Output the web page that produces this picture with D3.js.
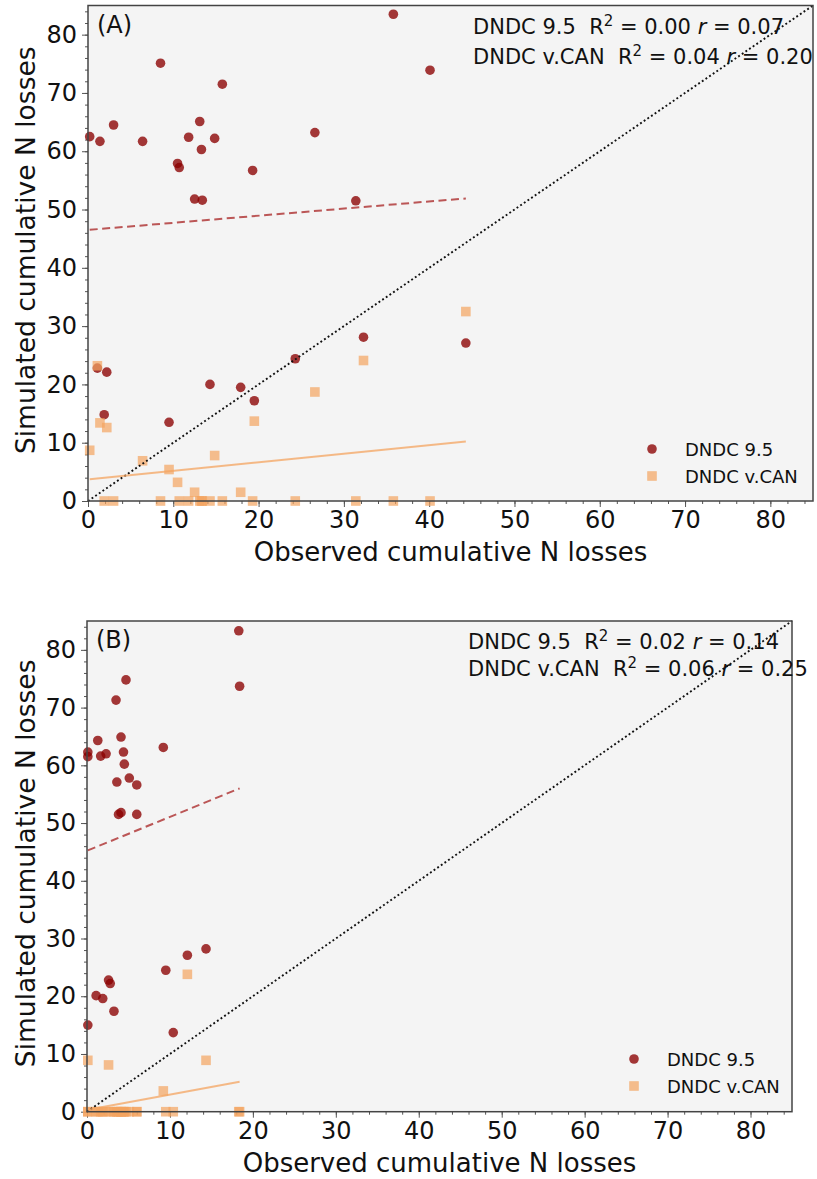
<!DOCTYPE html>
<html>
<head>
<meta charset="utf-8">
<script src="https://cdn.jsdelivr.net/npm/d3@7"></script>
<style>
  body { margin: 0; background: #fff; }
  text { font-family: "DejaVu Sans", sans-serif; white-space: pre; }
</style>
</head>
<body>
<svg id="chart" width="817" height="1179"></svg>
<script>
// Panel A: observed vs simulated cumulative N losses
var obsA = [0.2, 1.4, 3.0, 6.4, 8.5, 10.5, 10.7, 11.8, 12.5, 13.1, 13.3, 13.4, 14.85, 15.75, 19.3,
  35.8, 40.1, 26.6, 31.4, 1.1, 2.2, 1.9, 9.5, 14.3, 17.9, 19.5, 24.3, 32.3, 44.3];
var simA95 = [62.5, 61.7, 64.5, 61.7, 75.1, 57.9, 57.2, 62.4, 51.8, 65.1, 60.3, 51.6, 62.2, 71.5, 56.7,
  83.5, 73.9, 63.2, 51.5, 22.8, 22.1, 14.8, 13.5, 20.0, 19.5, 17.2, 24.4, 28.1, 27.1];
var simACAN = [8.7, 13.4, 0, 6.9, 0, 3.2, 0, 0, 1.5, 0, 0, 0, 7.8, 0, 0,
  0, 0, 18.7, 0, 23.2, 12.6, 0, 5.4, 0, 1.5, 13.7, 0, 24.1, 32.5];

// Panel B
var obsB = [0.1, 0.1, 1.3, 1.65, 2.3, 3.5, 4.7, 4.1, 4.4, 4.5, 5.1, 3.6, 6.0, 3.8, 4.1, 6.0, 9.2,
  18.3, 18.4, 0.1, 1.1, 1.9, 2.6, 2.8, 3.25, 9.5, 10.4, 12.1, 14.35];
var simB95 = [62.3, 61.5, 64.3, 61.6, 62.0, 71.3, 74.8, 64.9, 62.3, 60.2, 57.8, 57.1, 56.6, 51.5, 51.8, 51.5, 63.1,
  83.3, 73.7, 15.0, 20.1, 19.6, 22.8, 22.2, 17.4, 24.5, 13.7, 27.1, 28.2];
var simBCAN = [0, 0, 0, 0, 0, 0, 0, 0, 0, 0, 0, 0, 0, 0, 0, 0, 3.6,
  0, 0, 8.9, 0, 0, 8.1, 0, 0, 0, 0, 23.8, 8.9];

// fitted lines [intercept, slope]
var fitA95 = [46.5, 0.122], fitACAN = [3.7, 0.147];
var fitB95 = [45.2, 0.587], fitBCAN = [0.3, 0.266];

var seriesNames = ["DNDC 9.5", "DNDC v.CAN"];
var r2A = ["0.00", "0.04"], rA = ["0.07", "0.20"];
var r2B = ["0.02", "0.06"], rB = ["0.14", "0.25"];
var majorTicks = d3.range(0, 81, 10);
var minorTicks = d3.range(0, 86, 2);

var col95 = "darkred", colCAN = "sandybrown";
var svg = d3.select("#chart");

function drawPanel(p) {
  var g = svg.append("g");
  var x = d3.scaleLinear().domain([0, 85]).range([p.left, p.right]);
  var y = d3.scaleLinear().domain([0, 85]).range([p.bottom, p.top]);

  g.append("rect")
    .attr("x", p.left).attr("y", p.top)
    .attr("width", p.right - p.left).attr("height", p.bottom - p.top)
    .attr("fill", "#f4f4f4");

  // axes
  var xMinor = g.append("g").attr("transform", "translate(0," + p.bottom + ")")
    .call(d3.axisBottom(x).tickValues(minorTicks).tickSize(3).tickFormat(""));
  var xMajor = g.append("g").attr("transform", "translate(0," + p.bottom + ")")
    .call(d3.axisBottom(x).tickValues(majorTicks).tickSize(6).tickPadding(4));
  var yMinor = g.append("g").attr("transform", "translate(" + p.left + ",0)")
    .call(d3.axisLeft(y).tickValues(minorTicks).tickSize(3).tickFormat(""));
  var yMajor = g.append("g").attr("transform", "translate(" + p.left + ",0)")
    .call(d3.axisLeft(y).tickValues(majorTicks).tickSize(6).tickPadding(5));
  [xMinor, xMajor, yMinor, yMajor].forEach(function (a) {
    a.select(".domain").remove();
    a.selectAll("line").attr("stroke", "#555").attr("stroke-width", 1);
    a.selectAll("text").attr("font-size", 24).attr("fill", "#111")
      .attr("font-family", "DejaVu Sans");
  });

  // scatter
  var pts95 = p.obs.map(function (d, i) { return [d, p.sim95[i]]; });
  var ptsCAN = p.obs.map(function (d, i) { return [d, p.simCAN[i]]; });
  g.selectAll("circle.p95").data(pts95).enter().append("circle")
    .attr("class", "p95")
    .attr("cx", function (d) { return x(d[0]); })
    .attr("cy", function (d) { return y(d[1]); })
    .attr("r", 4.8)
    .attr("fill", col95).attr("fill-opacity", 0.78);
  g.selectAll("rect.pcan").data(ptsCAN).enter().append("rect")
    .attr("class", "pcan")
    .attr("x", function (d) { return x(d[0]) - 4.8; })
    .attr("y", function (d) { return y(d[1]) - 4.8; })
    .attr("width", 9.6).attr("height", 9.6)
    .attr("fill", colCAN).attr("fill-opacity", 0.7);

  // 1:1 line
  g.append("line")
    .attr("x1", x(0)).attr("y1", y(0)).attr("x2", x(85)).attr("y2", y(85))
    .attr("stroke", "#111").attr("stroke-width", 1.9)
    .attr("stroke-dasharray", "1.9,2.5");

  // regression lines
  var xr = d3.extent(p.obs);
  var line = d3.line().x(function (d) { return x(d[0]); }).y(function (d) { return y(d[1]); });
  g.append("path")
    .datum(xr.map(function (v) { return [v, p.fit95[0] + p.fit95[1] * v]; }))
    .attr("d", line).attr("fill", "none")
    .attr("stroke", "#b03a3a").attr("stroke-opacity", 0.85).attr("stroke-width", 2)
    .attr("stroke-dasharray", "8,4.5");
  g.append("path")
    .datum(xr.map(function (v) { return [v, p.fitCAN[0] + p.fitCAN[1] * v]; }))
    .attr("d", line).attr("fill", "none")
    .attr("stroke", colCAN).attr("stroke-opacity", 0.75).attr("stroke-width", 2);

  // frame
  g.append("rect")
    .attr("x", p.left).attr("y", p.top)
    .attr("width", p.right - p.left).attr("height", p.bottom - p.top)
    .attr("fill", "none").attr("stroke", "#444").attr("stroke-width", 1.5);

  // panel tag
  g.append("text").attr("x", p.left + 9).attr("y", p.top + 27)
    .attr("font-size", 24).attr("fill", "#111").text(p.tag);

  // stats text
  seriesNames.forEach(function (name, i) {
    var t = g.append("text")
      .attr("x", p.statX).attr("y", p.statY + i * p.statDy)
      .attr("font-size", 21).attr("fill", "#111");
    t.append("tspan").text(name + "  R");
    t.append("tspan").attr("dy", -8).attr("font-size", 15).text("2");
    t.append("tspan").attr("dy", 8).text(" = " + p.r2[i] + " ");
    t.append("tspan").attr("font-style", "italic").text("r");
    t.append("tspan").text(" = " + p.r[i]);
  });

  // legend
  var lg = g.append("g").attr("transform", "translate(" + p.legX + "," + p.legY + ")");
  lg.append("circle").attr("cx", 0).attr("cy", 0).attr("r", 4.8)
    .attr("fill", col95).attr("fill-opacity", 0.78);
  lg.append("rect").attr("x", -4.8).attr("y", 27 - 4.8).attr("width", 9.6).attr("height", 9.6)
    .attr("fill", colCAN).attr("fill-opacity", 0.7);
  seriesNames.forEach(function (name, i) {
    lg.append("text").attr("x", 33).attr("y", i * 27 + 6.5)
      .attr("font-size", 18).attr("fill", "#111").text(name);
  });

  // axis titles
  g.append("text")
    .attr("x", (p.left + p.right) / 2).attr("y", p.bottom + 60)
    .attr("text-anchor", "middle").attr("font-size", 26).attr("fill", "#111")
    .text("Observed cumulative N losses");
  g.append("text")
    .attr("transform", "translate(35," + ((p.top + p.bottom) / 2 - 3) + ") rotate(-90)")
    .attr("text-anchor", "middle").attr("font-size", 26.5).attr("fill", "#111")
    .text("Simulated cumulative N losses");
}

drawPanel({
  tag: "(A)", left: 88, right: 813, top: 5.5, bottom: 501,
  obs: obsA, sim95: simA95, simCAN: simACAN, fit95: fitA95, fitCAN: fitACAN,
  r2: r2A, r: rA, statX: 473, statY: 34, statDy: 29.5,
  legX: 652, legY: 449
});
drawPanel({
  tag: "(B)", left: 87, right: 792, top: 621, bottom: 1111.7,
  obs: obsB, sim95: simB95, simCAN: simBCAN, fit95: fitB95, fitCAN: fitBCAN,
  r2: r2B, r: rB, statX: 468, statY: 649, statDy: 26.5,
  legX: 634, legY: 1059
});
</script>
</body>
</html>
